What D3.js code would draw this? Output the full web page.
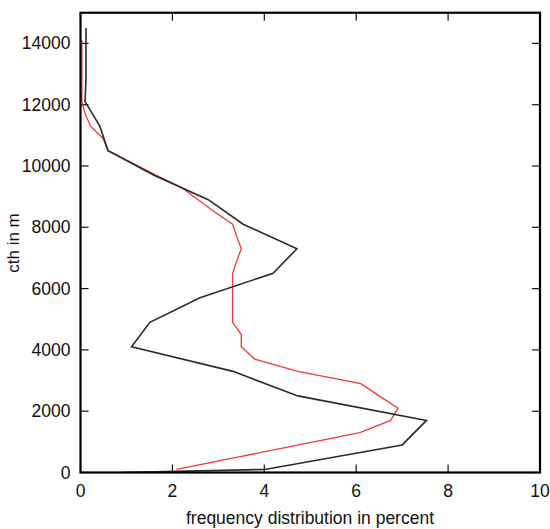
<!DOCTYPE html>
<html>
<head>
<meta charset="utf-8">
<script src="https://cdn.jsdelivr.net/npm/d3@7"></script>
<style>
  body { margin: 0; background: #fff; }
  text { font-family: "Liberation Sans", Arial, sans-serif; fill: #111; }
</style>
</head>
<body>
<script>
// cloud top height (m) and frequency (%) for the two curves
var blackHeight = [0, 100, 900, 1700, 2500, 3300, 4100, 4900, 5700, 6500, 7300, 8100,
                   8900, 9700, 10500, 11300, 12100, 12900, 13700, 14500];
var blackFreq   = [0.9, 4.01, 7.0, 7.53, 4.73, 3.32, 1.11, 1.51, 2.6, 4.19, 4.71, 3.54,
                   2.78, 1.6, 0.6, 0.42, 0.1, 0.12, 0.12, 0.12];

var redHeight = [100, 500, 900, 1300, 1700, 2100, 2500, 2900, 3300, 3700, 4100, 4500,
                 4900, 5300, 5700, 6100, 6500, 6900, 7300, 7700, 8100, 8500, 8900, 9300,
                 9700, 10100, 10500, 10900, 11300, 11700, 12100, 12500, 12900, 13300,
                 13700, 14100];
var redFreq   = [2.09, 3.42, 4.75, 6.08, 6.75, 6.91, 6.5, 6.1, 4.73, 3.79, 3.5, 3.5,
                 3.31, 3.31, 3.31, 3.31, 3.31, 3.4, 3.5, 3.4, 3.31, 2.92, 2.56, 2.2,
                 1.64, 1.12, 0.6, 0.49, 0.22, 0.1, 0.03, 0.03, 0.03, 0.03, 0.03, 0.03];

var xTicks = [0, 2, 4, 6, 8, 10];
var yTicks = [0, 2000, 4000, 6000, 8000, 10000, 12000, 14000];

var W = 550, H = 529;
var plotL = 80.5, plotR = 540, plotT = 12.75, plotB = 472.5;

var x = d3.scaleLinear().domain([0, 10]).range([plotL, plotR]);
var y = d3.scaleLinear().domain([0, 15000]).range([plotB, plotT]);

var svg = d3.select("body").append("svg")
    .attr("width", W)
    .attr("height", H);

svg.append("defs").append("clipPath").attr("id", "plot")
  .append("rect")
    .attr("x", plotL).attr("y", plotT)
    .attr("width", plotR - plotL).attr("height", plotB - plotT);

// ticks, inward on all four sides
var tickLen = 8;
var g = svg.append("g").attr("stroke", "#111").attr("stroke-width", 1.2);
xTicks.forEach(function(t) {
  g.append("line").attr("x1", x(t)).attr("x2", x(t)).attr("y1", plotB).attr("y2", plotB - tickLen);
  g.append("line").attr("x1", x(t)).attr("x2", x(t)).attr("y1", plotT).attr("y2", plotT + tickLen);
});
yTicks.forEach(function(t) {
  g.append("line").attr("x1", plotL).attr("x2", plotL + tickLen).attr("y1", y(t)).attr("y2", y(t));
  g.append("line").attr("x1", plotR).attr("x2", plotR - tickLen).attr("y1", y(t)).attr("y2", y(t));
});

// tick labels
svg.selectAll(".xlab").data(xTicks).enter().append("text")
    .attr("class", "xlab")
    .attr("x", function(d) { return x(d); })
    .attr("y", plotB + 24.5)
    .attr("text-anchor", "middle")
    .style("font-size", "17.5px")
    .text(function(d) { return d; });

svg.selectAll(".ylab").data(yTicks).enter().append("text")
    .attr("class", "ylab")
    .attr("x", plotL - 10)
    .attr("y", function(d) { return y(d) + 6; })
    .attr("text-anchor", "end")
    .style("font-size", "17.5px")
    .text(function(d) { return d; });

// axis titles
svg.append("text")
    .attr("x", 310)
    .attr("y", 524)
    .attr("text-anchor", "middle")
    .style("font-size", "17.5px")
    .text("frequency distribution in percent");

svg.append("text")
    .attr("transform", "translate(19,243) rotate(-90)")
    .attr("text-anchor", "middle")
    .style("font-size", "17px")
    .text("cth in m");

// the two curves
var line = d3.line()
    .x(function(d) { return x(d[0]); })
    .y(function(d) { return y(d[1]); });

var curves = svg.append("g").attr("clip-path", "url(#plot)");

curves.append("path")
    .datum(redFreq.map(function(v, i) { return [v, redHeight[i]]; }))
    .attr("d", line)
    .attr("fill", "none")
    .attr("stroke", "#ee3a3a")
    .attr("stroke-width", 1.3);

curves.append("path")
    .datum(blackFreq.map(function(v, i) { return [v, blackHeight[i]]; }))
    .attr("d", line)
    .attr("fill", "none")
    .attr("stroke", "#2b2b2b")
    .attr("stroke-width", 1.6);

// frame
svg.append("rect")
    .attr("x", plotL).attr("y", plotT)
    .attr("width", plotR - plotL).attr("height", plotB - plotT)
    .attr("fill", "none")
    .attr("stroke", "#000")
    .attr("stroke-width", 2.2);
</script>
</body>
</html>
